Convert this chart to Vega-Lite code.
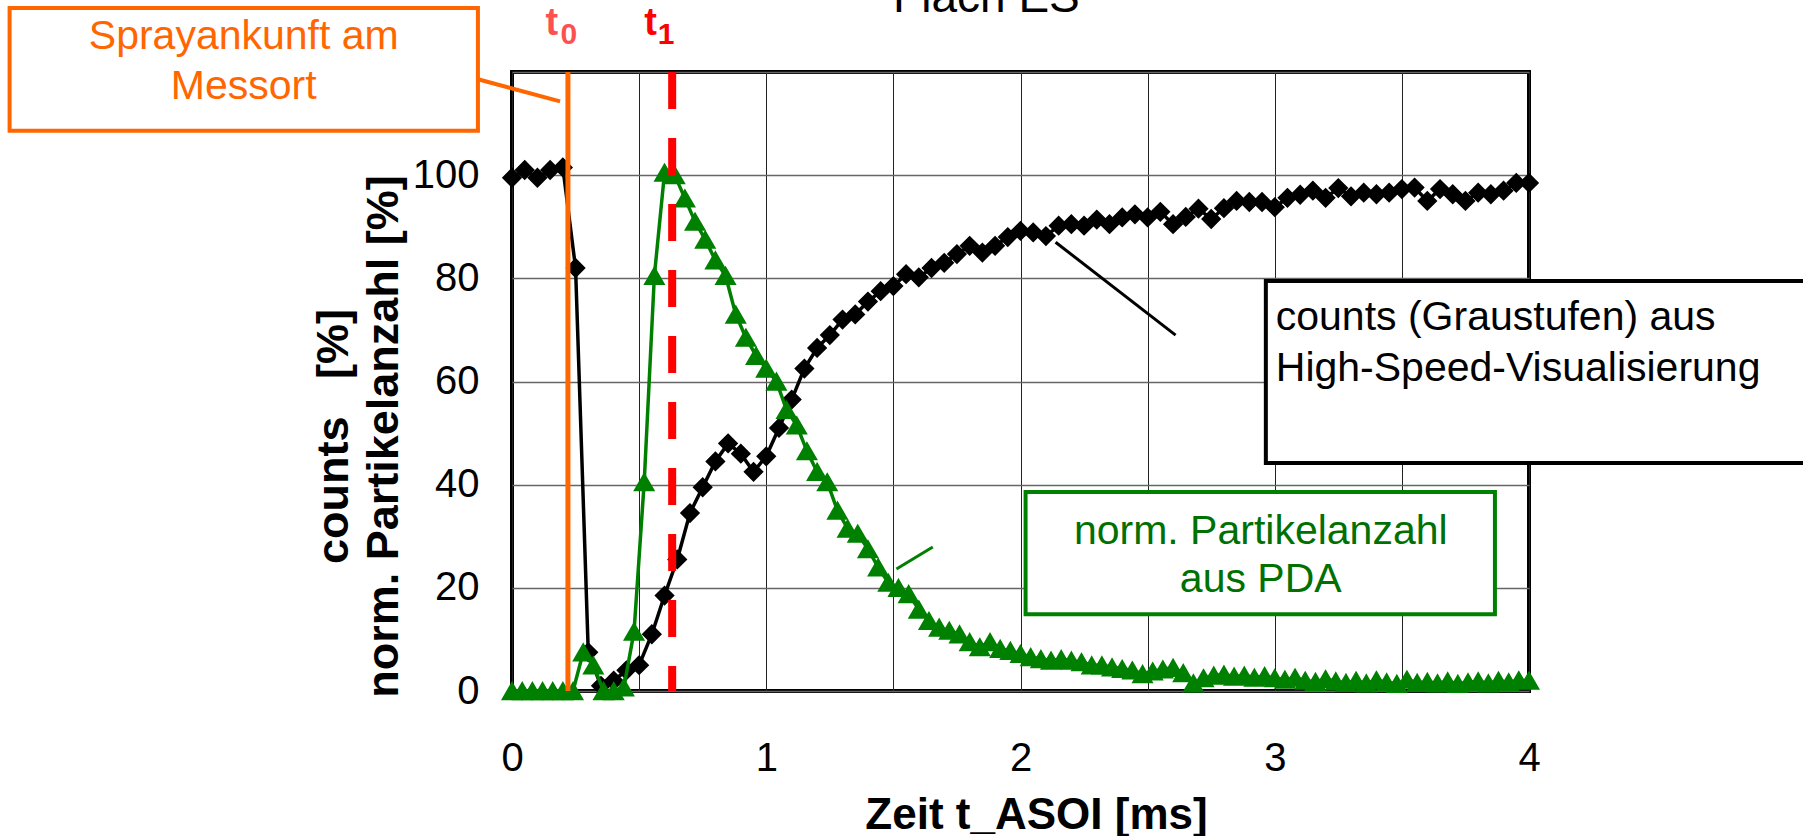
{
"$schema": "https://vega.github.io/schema/vega-lite/v6.json",
"width": 1017,
"height": 619,
"autosize": {"type": "none"},
"padding": {"left": 512, "top": 72, "right": 274, "bottom": 145},
"background": "white",
"config": {
  "font": "Liberation Sans",
  "view": {"stroke": "black", "strokeWidth": 4},
  "axis": {"labelColor": "black", "titleColor": "black", "labelFont": "Liberation Sans", "titleFont": "Liberation Sans"}
},
"layer": [
  {
    "data": {"values": [
      {"t":0,"v":99.5},{"t":0.05,"v":101},{"t":0.1,"v":99.5},{"t":0.15,"v":101},{"t":0.2,"v":101.5},
      {"t":0.25,"v":82},{"t":0.3,"v":7.5},{"t":0.35,"v":1},{"t":0.4,"v":2},{"t":0.45,"v":4},
      {"t":0.5,"v":5},{"t":0.55,"v":11},{"t":0.6,"v":18.5},{"t":0.65,"v":25.5},{"t":0.7,"v":34.5},
      {"t":0.75,"v":39.5},{"t":0.8,"v":44.5},{"t":0.85,"v":48},{"t":0.9,"v":46},{"t":0.95,"v":42.5},
      {"t":1,"v":45.5},{"t":1.05,"v":51},{"t":1.1,"v":56.5},{"t":1.15,"v":62.5},{"t":1.2,"v":66.5},
      {"t":1.25,"v":69},{"t":1.3,"v":72},{"t":1.35,"v":73},{"t":1.4,"v":75.5},{"t":1.45,"v":77.5},
      {"t":1.5,"v":78.5},{"t":1.55,"v":80.8},{"t":1.6,"v":80.2},{"t":1.65,"v":82},{"t":1.7,"v":83},
      {"t":1.75,"v":84.7},{"t":1.8,"v":86.3},{"t":1.85,"v":85},{"t":1.9,"v":86.3},{"t":1.95,"v":88},
      {"t":2,"v":89.2},{"t":2.05,"v":88.9},{"t":2.1,"v":88.2},{"t":2.15,"v":90.2},{"t":2.2,"v":90.5},
      {"t":2.25,"v":90.2},{"t":2.3,"v":91.4},{"t":2.35,"v":90.5},{"t":2.4,"v":91.8},{"t":2.45,"v":92.4},
      {"t":2.5,"v":91.8},{"t":2.55,"v":92.9},{"t":2.6,"v":90.5},{"t":2.65,"v":91.9},{"t":2.7,"v":93.5},
      {"t":2.75,"v":91.5},{"t":2.8,"v":93.6},{"t":2.85,"v":95},{"t":2.9,"v":94.8},{"t":2.95,"v":94.8},
      {"t":3,"v":93.8},{"t":3.05,"v":95.6},{"t":3.1,"v":96.2},{"t":3.15,"v":97},{"t":3.2,"v":95.6},
      {"t":3.25,"v":97.5},{"t":3.3,"v":95.9},{"t":3.35,"v":96.6},{"t":3.4,"v":96.3},{"t":3.45,"v":96.6},
      {"t":3.5,"v":97.3},{"t":3.55,"v":97.6},{"t":3.6,"v":95},{"t":3.65,"v":97.3},{"t":3.7,"v":96.3},
      {"t":3.75,"v":95},{"t":3.8,"v":96.6},{"t":3.85,"v":96.3},{"t":3.9,"v":97},{"t":3.95,"v":98.5},
      {"t":4,"v":98.5}
    ]},
    "mark": {"type": "line", "color": "black", "strokeWidth": 3.5, "point": {"shape": "diamond", "size": 330, "filled": true, "color": "black", "stroke": "black", "strokeWidth": 1.5}},
    "encoding": {
      "x": {"field": "t", "type": "quantitative", "scale": {"domain": [0, 4], "nice": false, "zero": false},
        "axis": {"values": [0,0.5,1,1.5,2,2.5,3,3.5,4], "labelExpr": "datum.value % 1 == 0 ? format(datum.value, 'd') : ''",
          "grid": true, "gridColor": "#222222", "gridWidth": 1, "ticks": false, "tickSize": 0, "domain": false,
          "labelFontSize": 40, "labelPadding": 79, "labelBaseline": "alphabetic", "labelFlush": false, "labelOverlap": false,
          "title": "Zeit t_ASOI [ms]", "titleFontSize": 44, "titleFontWeight": "bold", "titleX": 524, "titleY": 137,
          "titleBaseline": "alphabetic", "titleAlign": "center", "titleAnchor": "middle"}},
      "y": {"field": "v", "type": "quantitative", "scale": {"domain": [0, 120], "nice": false, "zero": false},
        "axis": {"values": [0,20,40,60,80,100,120], "labelExpr": "datum.value > 100 ? '' : datum.label",
          "grid": true, "gridColor": "#666666", "gridWidth": 1.5, "ticks": false, "tickSize": 0, "domain": false,
          "labelFontSize": 40, "labelPadding": 33, "labelFlush": false, "labelOverlap": false,
          "title": ["counts\u00a0\u00a0\u00a0[%]", "norm. Partikelanzahl [%]"], "titleFontSize": 45, "titleFontWeight": "bold",
          "titleAngle": 270, "titleX": -165, "titleY": 364, "titleAlign": "center", "titleBaseline": "alphabetic", "titleLineHeight": 50}}
    }
  },
  {
    "data": {"values": [
      {"t":0,"v":0},{"t":0.04,"v":0},{"t":0.08,"v":0},{"t":0.12,"v":0},{"t":0.16,"v":0},{"t":0.2,"v":0},
      {"t":0.24,"v":0},{"t":0.28,"v":7.5},{"t":0.32,"v":5},{"t":0.36,"v":0},{"t":0.4,"v":0},{"t":0.44,"v":0.7},
      {"t":0.48,"v":11.5},{"t":0.52,"v":40.5},{"t":0.56,"v":80.5},{"t":0.6,"v":100.5},{"t":0.64,"v":100},
      {"t":0.68,"v":95.5},{"t":0.72,"v":91},{"t":0.76,"v":87.5},{"t":0.8,"v":83.5},{"t":0.84,"v":80.5},
      {"t":0.88,"v":73},{"t":0.92,"v":68.5},{"t":0.96,"v":65},{"t":1,"v":62.5},{"t":1.04,"v":60},
      {"t":1.08,"v":54.5},{"t":1.12,"v":51.5},{"t":1.16,"v":46.5},{"t":1.2,"v":42.5},{"t":1.24,"v":40.5},
      {"t":1.28,"v":35},{"t":1.32,"v":31.5},{"t":1.36,"v":30.5},{"t":1.4,"v":27.5},{"t":1.44,"v":24},
      {"t":1.48,"v":21},{"t":1.52,"v":20},{"t":1.56,"v":18.8},{"t":1.6,"v":15.8},{"t":1.64,"v":13.6},
      {"t":1.68,"v":12.3},{"t":1.72,"v":11.7},{"t":1.76,"v":11},{"t":1.8,"v":9.5},{"t":1.84,"v":8.5},
      {"t":1.88,"v":9.5},{"t":1.92,"v":8.2},{"t":1.96,"v":7.8},{"t":2,"v":7.2},{"t":2.04,"v":6.6},
      {"t":2.08,"v":6.2},{"t":2.12,"v":5.9},{"t":2.16,"v":6.2},{"t":2.2,"v":5.9},{"t":2.24,"v":5.6},
      {"t":2.28,"v":5},{"t":2.32,"v":5},{"t":2.36,"v":4.6},{"t":2.4,"v":4.3},{"t":2.44,"v":4},
      {"t":2.48,"v":3.3},{"t":2.52,"v":3.8},{"t":2.56,"v":4.2},{"t":2.6,"v":4.5},{"t":2.64,"v":3.5},
      {"t":2.68,"v":1.5},{"t":2.72,"v":2.5},{"t":2.76,"v":3},{"t":2.8,"v":3.2},{"t":2.84,"v":2.8},
      {"t":2.88,"v":3},{"t":2.92,"v":2.6},{"t":2.96,"v":2.9},{"t":3,"v":2.5},{"t":3.04,"v":2.2},
      {"t":3.08,"v":2.6},{"t":3.12,"v":2},{"t":3.16,"v":1.8},{"t":3.2,"v":2.3},{"t":3.24,"v":1.9},
      {"t":3.28,"v":1.6},{"t":3.32,"v":2},{"t":3.36,"v":1.5},{"t":3.4,"v":2.1},{"t":3.44,"v":1.7},
      {"t":3.48,"v":1.4},{"t":3.52,"v":2.2},{"t":3.56,"v":1.6},{"t":3.6,"v":1.8},{"t":3.64,"v":1.5},
      {"t":3.68,"v":1.9},{"t":3.72,"v":1.4},{"t":3.76,"v":1.7},{"t":3.8,"v":1.9},{"t":3.84,"v":1.5},
      {"t":3.88,"v":2},{"t":3.92,"v":1.7},{"t":3.96,"v":2.1},{"t":4,"v":2}
    ]},
    "mark": {"type": "line", "color": "#008000", "strokeWidth": 3.5, "point": {"shape": "triangle-up", "size": 380, "filled": true, "color": "#008000", "stroke": "#008000", "strokeWidth": 1.5}},
    "encoding": {"x": {"field": "t", "type": "quantitative"}, "y": {"field": "v", "type": "quantitative"}}
  },
  {
    "data": {"values": [{"t": 0.22}]},
    "mark": {"type": "rule", "color": "#FF6600", "strokeWidth": 5},
    "encoding": {"x": {"field": "t", "type": "quantitative"}}
  },
  {
    "data": {"values": [{"t": 0.63}]},
    "mark": {"type": "rule", "color": "#FF0000", "strokeWidth": 8, "strokeDash": [37, 29]},
    "encoding": {"x": {"field": "t", "type": "quantitative"}}
  },
  {
    "data": {"values": [{"t": -1.976, "t2": -0.134, "v": 132.4, "v2": 108.6}]},
    "mark": {"type": "rect", "fill": "white", "stroke": "#FF6600", "strokeWidth": 4},
    "encoding": {"x": {"field": "t", "type": "quantitative"}, "x2": {"field": "t2"}, "y": {"field": "v", "type": "quantitative"}, "y2": {"field": "v2"}}
  },
  {
    "data": {"values": [{"t": -1.055, "v": 126.8, "label": "Sprayankunft am"}, {"t": -1.055, "v": 117.1, "label": "Messort"}]},
    "mark": {"type": "text", "color": "#FF6600", "fontSize": 41, "align": "center", "baseline": "middle"},
    "encoding": {"x": {"field": "t", "type": "quantitative"}, "y": {"field": "v", "type": "quantitative"}, "text": {"field": "label"}}
  },
  {
    "data": {"values": [{"t": -0.134, "v": 118.6, "t2": 0.189, "v2": 114.3}]},
    "mark": {"type": "rule", "color": "#FF6600", "strokeWidth": 4},
    "encoding": {"x": {"field": "t", "type": "quantitative"}, "x2": {"field": "t2"}, "y": {"field": "v", "type": "quantitative"}, "y2": {"field": "v2"}}
  },
  {
    "data": {"values": [{"t": 0.157, "v": 127.2, "label": "t"}]},
    "mark": {"type": "text", "color": "#FF5050", "fontSize": 38, "fontWeight": "bold", "align": "center", "baseline": "alphabetic"},
    "encoding": {"x": {"field": "t", "type": "quantitative"}, "y": {"field": "v", "type": "quantitative"}, "text": {"field": "label"}}
  },
  {
    "data": {"values": [{"t": 0.224, "v": 125.4, "label": "0"}]},
    "mark": {"type": "text", "color": "#FF5050", "fontSize": 30, "fontWeight": "bold", "align": "center", "baseline": "alphabetic"},
    "encoding": {"x": {"field": "t", "type": "quantitative"}, "y": {"field": "v", "type": "quantitative"}, "text": {"field": "label"}}
  },
  {
    "data": {"values": [{"t": 0.545, "v": 127.2, "label": "t"}]},
    "mark": {"type": "text", "color": "#FF0000", "fontSize": 38, "fontWeight": "bold", "align": "center", "baseline": "alphabetic"},
    "encoding": {"x": {"field": "t", "type": "quantitative"}, "y": {"field": "v", "type": "quantitative"}, "text": {"field": "label"}}
  },
  {
    "data": {"values": [{"t": 0.606, "v": 125.4, "label": "1"}]},
    "mark": {"type": "text", "color": "#FF0000", "fontSize": 30, "fontWeight": "bold", "align": "center", "baseline": "alphabetic"},
    "encoding": {"x": {"field": "t", "type": "quantitative"}, "y": {"field": "v", "type": "quantitative"}, "text": {"field": "label"}}
  },
  {
    "data": {"values": [{"t": 1.866, "v": 131.6, "label": "Flach ES"}]},
    "mark": {"type": "text", "color": "black", "fontSize": 46, "align": "center", "baseline": "alphabetic"},
    "encoding": {"x": {"field": "t", "type": "quantitative"}, "y": {"field": "v", "type": "quantitative"}, "text": {"field": "label"}}
  },
  {
    "data": {"values": [{"t": 2.965, "t2": 5.3, "v": 79.5, "v2": 44.2}]},
    "mark": {"type": "rect", "fill": "white", "stroke": "black", "strokeWidth": 4},
    "encoding": {"x": {"field": "t", "type": "quantitative"}, "x2": {"field": "t2"}, "y": {"field": "v", "type": "quantitative"}, "y2": {"field": "v2"}}
  },
  {
    "data": {"values": [{"t": 3.004, "v": 72.3, "label": "counts (Graustufen) aus"}, {"t": 3.004, "v": 62.4, "label": "High-Speed-Visualisierung"}]},
    "mark": {"type": "text", "color": "black", "fontSize": 41, "align": "left", "baseline": "middle"},
    "encoding": {"x": {"field": "t", "type": "quantitative"}, "y": {"field": "v", "type": "quantitative"}, "text": {"field": "label"}}
  },
  {
    "data": {"values": [{"t": 2.138, "v": 87, "t2": 2.61, "v2": 69}]},
    "mark": {"type": "rule", "color": "black", "strokeWidth": 3},
    "encoding": {"x": {"field": "t", "type": "quantitative"}, "x2": {"field": "t2"}, "y": {"field": "v", "type": "quantitative"}, "y2": {"field": "v2"}}
  },
  {
    "data": {"values": [{"t": 2.02, "t2": 3.866, "v": 38.6, "v2": 14.9}]},
    "mark": {"type": "rect", "fill": "white", "stroke": "#008000", "strokeWidth": 4},
    "encoding": {"x": {"field": "t", "type": "quantitative"}, "x2": {"field": "t2"}, "y": {"field": "v", "type": "quantitative"}, "y2": {"field": "v2"}}
  },
  {
    "data": {"values": [{"t": 2.945, "v": 30.8, "label": "norm. Partikelanzahl"}, {"t": 2.945, "v": 21.5, "label": "aus PDA"}]},
    "mark": {"type": "text", "color": "#007000", "fontSize": 41, "align": "center", "baseline": "middle"},
    "encoding": {"x": {"field": "t", "type": "quantitative"}, "y": {"field": "v", "type": "quantitative"}, "text": {"field": "label"}}
  },
  {
    "data": {"values": [{"t": 1.512, "v": 23.65, "t2": 1.655, "v2": 27.9}]},
    "mark": {"type": "rule", "color": "#008000", "strokeWidth": 3},
    "encoding": {"x": {"field": "t", "type": "quantitative"}, "x2": {"field": "t2"}, "y": {"field": "v", "type": "quantitative"}, "y2": {"field": "v2"}}
  }
]
}
